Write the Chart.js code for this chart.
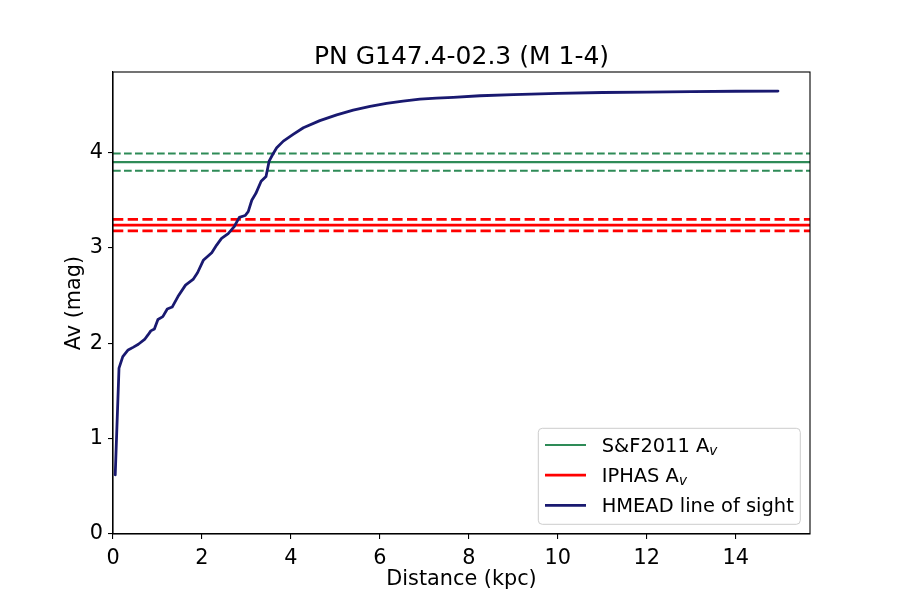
<!DOCTYPE html>
<html><head><meta charset="utf-8">
<script src="https://cdn.jsdelivr.net/npm/chart.js@4.4.1/dist/chart.umd.min.js"></script>
<style>html,body{margin:0;padding:0;background:#fff;}canvas{display:block;}</style>
</head><body>
<canvas id="c" width="900" height="600"></canvas>
<script>
const titleText = 'PN G147.4-02.3 (M 1-4)';
const xLabel = 'Distance (kpc)';
const yLabel = 'Av (mag)';

const distance = [0.05,0.135,0.22,0.34,0.46,0.57,0.71,0.79,0.85,0.93,1.01,1.12,1.22,1.33,1.46,1.63,1.80,1.90,2.03,2.22,2.33,2.44,2.59,2.72,2.84,2.97,3.04,3.12,3.21,3.33,3.44,3.51,3.59,3.68,3.83,4.05,4.28,4.65,5.03,5.40,5.78,6.15,6.52,6.90,7.27,7.65,8.25,9.0,10.0,11.0,12.0,13.0,14.0,14.95];
const avHmead  = [0.62,1.74,1.86,1.93,1.96,1.99,2.04,2.09,2.13,2.15,2.25,2.28,2.36,2.38,2.49,2.61,2.67,2.74,2.87,2.95,3.03,3.10,3.15,3.22,3.32,3.34,3.38,3.50,3.57,3.70,3.75,3.91,3.98,4.05,4.12,4.19,4.26,4.335,4.395,4.445,4.485,4.515,4.54,4.56,4.57,4.58,4.596,4.607,4.62,4.63,4.635,4.64,4.643,4.645];

const sfAv = 3.90, sfAvErr = 0.09;
const iphasAv = 3.24, iphasAvErr = 0.06;

const xTicks = [0,2,4,6,8,10,12,14];
const yTicks = [0,1,2,3,4];
const xRange = [0, 15.67];
const yRange = [0, 4.845];

const FONT = '"DejaVu Sans"';
const GREEN = '#2E8B57', RED = '#FF0000', NAVY = '#191970';

function hline(v, color, width, dash, label, sub, order) {
  return {
    data: [{x: xRange[0], y: v}, {x: xRange[1], y: v}],
    borderColor: color, borderWidth: width, borderDash: dash,
    pointRadius: 0, tension: 0, fill: false, order: order,
    label: label || '', legendSub: sub || '', inLegend: !!label,
    borderCapStyle: 'butt'
  };
}

const datasets = [
  hline(sfAv, GREEN, 2.08, [], 'S&F2011 A', 'v', 10),
  hline(sfAv + sfAvErr, GREEN, 2.08, [7.7, 3.3], null, null, 11),
  hline(sfAv - sfAvErr, GREEN, 2.08, [7.7, 3.3], null, null, 12),
  hline(iphasAv, RED, 2.78, [], 'IPHAS A', 'v', 5),
  hline(iphasAv + iphasAvErr, RED, 2.78, [10.3, 4.4], null, null, 6),
  hline(iphasAv - iphasAvErr, RED, 2.78, [10.3, 4.4], null, null, 7),
  {
    label: 'HMEAD line of sight', legendSub: '', inLegend: true,
    data: distance.map((d, i) => ({x: d, y: avHmead[i]})),
    borderColor: NAVY, borderWidth: 2.78, pointRadius: 0, tension: 0,
    fill: false, order: 0, borderJoinStyle: 'round', borderCapStyle: 'round'
  }
];

const decor = {
  id: 'decor',
  afterDraw(chart) {
    const ctx = chart.ctx, a = chart.chartArea;
    ctx.save();
    // frame
    ctx.strokeStyle = '#000'; ctx.lineWidth = 1.1;
    ctx.strokeRect(a.left, a.top, a.right - a.left, a.bottom - a.top);
    ctx.fillStyle = '#000';
    // title
    ctx.font = '25px ' + FONT;
    ctx.textAlign = 'center'; ctx.textBaseline = 'alphabetic';
    ctx.fillText(titleText, (a.left + a.right) / 2, a.top - 8.5);
    // x label
    ctx.font = '20.8px ' + FONT;
    ctx.fillText(xLabel, (a.left + a.right) / 2, 585);
    // y label
    ctx.save();
    ctx.translate(80, (a.top + a.bottom) / 2);
    ctx.rotate(-Math.PI / 2);
    ctx.fillText(yLabel, 0, 0);
    ctx.restore();
    // legend
    const items = chart.data.datasets.filter(d => d.inLegend);
    const bx = 538.3, by = 428.3, bw = 262, bh = 96;
    ctx.beginPath();
    ctx.roundRect(bx, by, bw, bh, 4);
    ctx.fillStyle = 'rgba(255,255,255,0.8)';
    ctx.fill();
    ctx.strokeStyle = '#cccccc'; ctx.lineWidth = 1;
    ctx.stroke();
    ctx.textAlign = 'left';
    items.forEach((d, i) => {
      const yb = 452 + i * 30.2;
      const yc = yb - 7;
      ctx.beginPath();
      ctx.strokeStyle = d.borderColor; ctx.lineWidth = d.borderWidth;
      ctx.setLineDash([]);
      ctx.moveTo(545, yc); ctx.lineTo(586, yc);
      ctx.stroke();
      ctx.fillStyle = '#000';
      ctx.font = '19.44px ' + FONT;
      ctx.fillText(d.label, 601.7, yb);
      if (d.legendSub) {
        const w = ctx.measureText(d.label).width;
        ctx.font = 'italic 13.6px ' + FONT;
        ctx.fillText(d.legendSub, 601.7 + w, yb + 3);
      }
    });
    ctx.restore();
  }
};

function axisCommon(range, ticks, fitProp, fitVal, pad) {
  return {
    type: 'linear', min: range[0], max: range[1],
    afterBuildTicks(scale) { scale.ticks = ticks.map(v => ({value: v})); },
    afterFit(scale) { scale[fitProp] = fitVal; },
    ticks: { font: {family: 'DejaVu Sans', size: 20.8}, color: '#000', padding: pad,
             includeBounds: false, maxRotation: 0, autoSkip: false,
             callback: v => String(v) },
    grid: { drawOnChartArea: false, drawTicks: true, tickLength: 5, color: '#000', lineWidth: 1.1 },
    border: { display: true, color: '#000', width: 1.1 }
  };
}

new Chart(document.getElementById('c'), {
  type: 'line',
  data: { datasets: datasets },
  options: {
    responsive: false, animation: false, devicePixelRatio: 1,
    layout: { padding: { left: 0, right: 90, top: 72, bottom: 0 } },
    plugins: { legend: { display: false }, title: { display: false }, tooltip: { enabled: false } },
    scales: {
      x: axisCommon(xRange, xTicks, 'height', 66, 7),
      y: axisCommon(yRange, yTicks, 'width', 113, 5)
    }
  },
  plugins: [decor]
});
</script>
</body></html>
